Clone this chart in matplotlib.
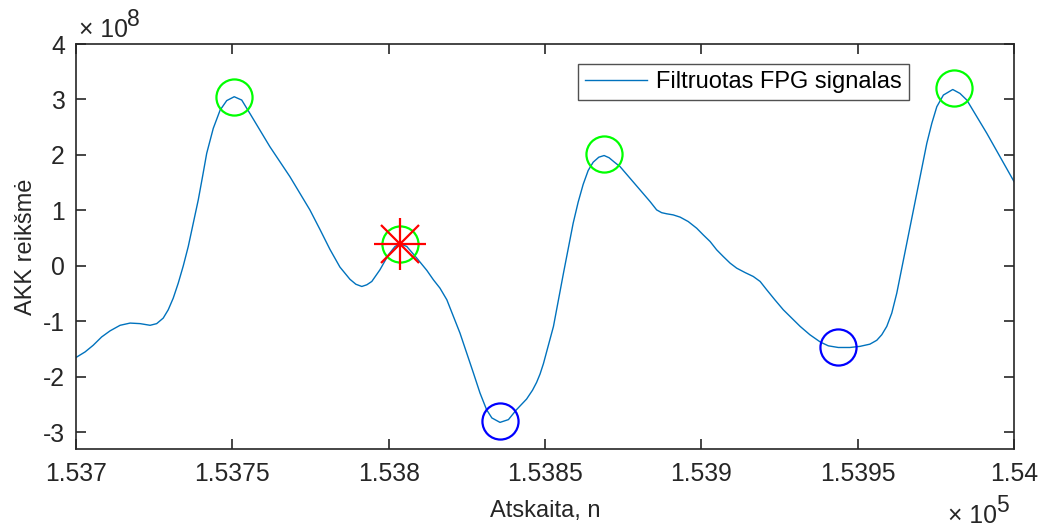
import matplotlib
matplotlib.use("Agg")
import matplotlib.pyplot as plt
import numpy as np

plt.rcParams['font.family'] = ['Liberation Sans', 'DejaVu Sans']

# ---- data (signal samples, values in units of 1e8) ----
n_samples = [153700, 153702.9, 153705.5, 153708.2, 153710.9, 153714.1, 153717.3, 153720.5,
             153723.7, 153725.8, 153727.9, 153729.5, 153731.1, 153732.7, 153734.3, 153735.9,
             153737.5, 153739.1, 153740.5, 153741.8, 153743.9,
             153746.1, 153748.2, 153750.6, 153753.0, 153755.6, 153762.0, 153768.4, 153771.6,
             153774.8, 153778.0, 153781.2, 153784.4, 153787.6, 153789.5, 153791.4, 153793.0,
             153794.6, 153797.2, 153799.9, 153802.0, 153803.6, 153805.8, 153809.0, 153812.2,
             153814.3, 153816.4, 153818.6, 153820.7, 153822.8, 153827.1, 153829.2, 153831.3,
             153833.0, 153835.6, 153838.3, 153840.9, 153844.1, 153846.0, 153847.3, 153848.4,
             153849.5, 153850.5, 153851.6,
             153852.7, 153854.8, 153855.9, 153859.0, 153860.6, 153862.2, 153863.8, 153865.4,
             153867.2, 153868.9, 153870.5, 153872.2, 153874.0, 153877.2, 153880.4, 153883.6,
             153885.7, 153887.3, 153888.9, 153891.0, 153893.2, 153895.8, 153898.5, 153900.6,
             153902.8, 153904.9, 153907.0, 153909.2, 153911.3, 153914.0, 153916.6, 153918.8,
             153920.9, 153923.5, 153926.2, 153928.9, 153931.6, 153934.7, 153938.0, 153940.6,
             153943.8, 153947.5, 153950.7, 153953.9, 153956.1, 153957.7, 153959.3, 153960.9,
             153962.5, 153964.1, 153965.7, 153968.9, 153972.1, 153973.7, 153975.3, 153977.4,
             153980.4, 153982.7, 153984.9, 153988.1, 153991.3, 153995.5, 154000.0]
signal_e8 = [-1.65, -1.55, -1.43, -1.28, -1.17, -1.07, -1.03, -1.04,
             -1.07, -1.04, -0.94, -0.79, -0.58, -0.31, 0.00, 0.35,
             0.77, 1.19, 1.62, 2.03, 2.48,
             2.81, 2.98, 3.05, 2.99, 2.75, 2.15, 1.61, 1.31,
             1.01, 0.66, 0.30, -0.02, -0.24, -0.33, -0.37, -0.34,
             -0.28, -0.07, 0.20, 0.35, 0.40, 0.35, 0.14, -0.08,
             -0.25, -0.40, -0.61, -0.91, -1.21, -1.93, -2.29, -2.59,
             -2.74, -2.82, -2.77, -2.59, -2.40, -2.24, -2.10, -1.95,
             -1.76, -1.55, -1.32,
             -1.09, -0.46, -0.13, 0.77, 1.15, 1.47, 1.72, 1.87,
             1.96, 1.99, 1.95, 1.87, 1.79, 1.58, 1.37, 1.16,
             1.01, 0.96, 0.94, 0.92, 0.88, 0.80, 0.68, 0.56,
             0.44, 0.29, 0.17, 0.05, -0.04, -0.12, -0.19, -0.28,
             -0.43, -0.61, -0.79, -0.94, -1.09, -1.24, -1.37, -1.44,
             -1.47, -1.47, -1.45, -1.41, -1.34, -1.24, -1.09, -0.85,
             -0.49, -0.04, 0.41, 1.31, 2.21, 2.57, 2.87, 3.08,
             3.18, 3.11, 2.99, 2.69, 2.39, 1.97, 1.52]

peaks_n = [153750.6, 153803.6, 153868.9, 153980.8]
peaks_v = [3.05, 0.40, 2.01, 3.20]
troughs_n = [153835.6, 153943.8]
troughs_v = [-2.80, -1.47]
marked_n = [153803.6]
marked_v = [0.40]

xticks = [153700, 153750, 153800, 153850, 153900, 153950, 154000]
xtick_labels = ['1.537', '1.5375', '1.538', '1.5385', '1.539', '1.5395', '1.54']
yticks_e8 = [-3, -2, -1, 0, 1, 2, 3, 4]
ytick_labels = ['-3', '-2', '-1', '0', '1', '2', '3', '4']

scale = 1e8
sig = np.array(signal_e8) * scale

fig = plt.figure(figsize=(10.44, 5.31), dpi=100)
ax = fig.add_axes([0.0728, 0.1544, 0.8985, 0.7627])

ax.plot(n_samples, sig, color='#0072BD', lw=1.0, label='Filtruotas FPG signalas')
ax.plot(peaks_n, np.array(peaks_v) * scale, 'o', mfc='none', mec='#00FF00', ms=26, mew=1.6)
ax.plot(troughs_n, np.array(troughs_v) * scale, 'o', mfc='none', mec='#0000FF', ms=26, mew=1.6)
ax.plot(marked_n, np.array(marked_v) * scale, '+', color='#FF0000', ms=38, mew=1.6)
ax.plot(marked_n, np.array(marked_v) * scale, 'x', color='#FF0000', ms=27, mew=1.6)

ax.set_xlim(153700, 154000)
ax.set_ylim(-3.3 * scale, 4 * scale)
ax.set_xticks(xticks)
ax.set_xticklabels(xtick_labels)
ax.set_yticks(np.array(yticks_e8) * scale)
ax.set_yticklabels(ytick_labels)

dark = '#262626'
for s in ax.spines.values():
    s.set_color(dark)
    s.set_linewidth(1.2)
ax.tick_params(direction='in', length=7, width=1.2, color=dark, labelcolor=dark,
               labelsize=17.8, top=True, right=True)
ax.tick_params(axis='x', pad=9)
ax.tick_params(axis='y', pad=8)

ax.set_xlabel('Atskaita, n', fontsize=17, color=dark)
ax.set_ylabel('AKK reikšmė', fontsize=17, color=dark)
ax.xaxis.set_label_coords(0.5, -0.125)
ax.yaxis.set_label_coords(-0.042, 0.5)

W, H = 1044, 531
fig.text(79 / W, 1 - 37 / H, '× 10', fontsize=17.8, color=dark, ha='left', va='baseline')
fig.text(127 / W, 1 - 26 / H, '8', fontsize=16.5, color=dark, ha='left', va='baseline')
fig.text(948 / W, 1 - 523 / H, '× 10', fontsize=17.8, color=dark, ha='left', va='baseline')
fig.text(996 / W, 1 - 512 / H, '5', fontsize=16.5, color=dark, ha='left', va='baseline')

leg = ax.legend(loc='upper right', bbox_to_anchor=((909 - 76) / 938, (449 - 64) / 405),
                fontsize=17, frameon=True, fancybox=False, handlelength=2.6,
                borderpad=0.3, handletextpad=0.4, borderaxespad=0)
leg.get_frame().set_edgecolor(dark)
leg.get_frame().set_linewidth(1.0)
for t in leg.get_texts():
    t.set_color('black')

fig.savefig('out.png', dpi=100)
